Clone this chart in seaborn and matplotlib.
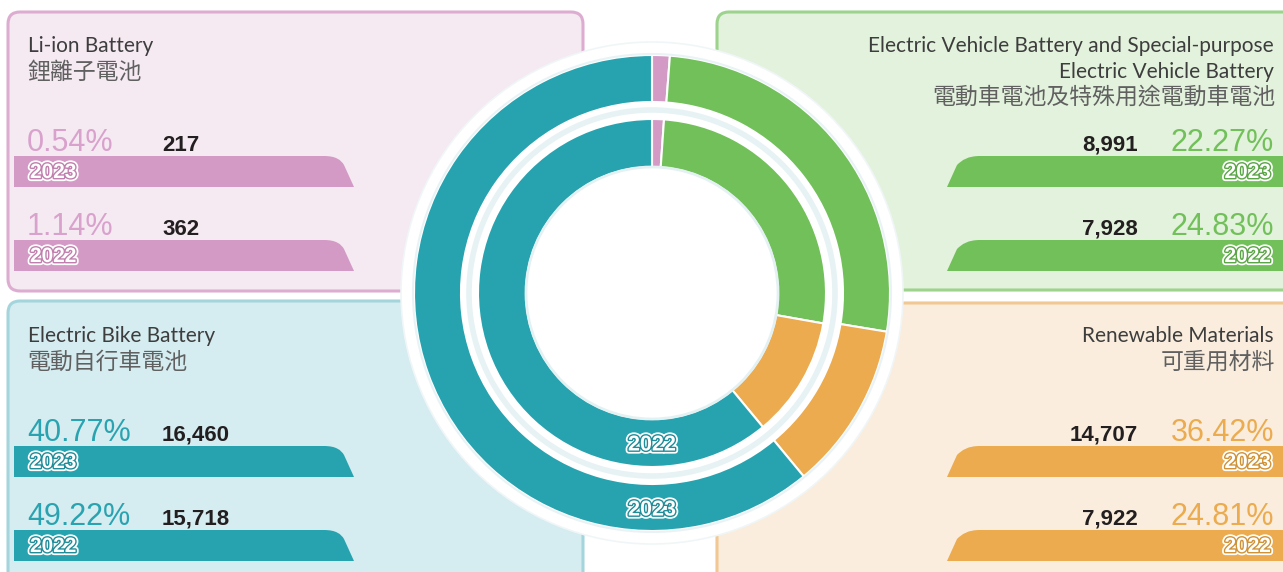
import numpy as np
import matplotlib
matplotlib.use("Agg")
import matplotlib.pyplot as plt
import matplotlib.patheffects as pe
from matplotlib.patches import FancyBboxPatch, PathPatch, Circle
from matplotlib.path import Path
import seaborn as sns

W, H = 1283, 572

# data
cat_en = ["Li-ion Battery",
          "Electric Vehicle Battery and Special-purpose\nElectric Vehicle Battery",
          "Renewable Materials",
          "Electric Bike Battery"]
cat_zh = ["鋰離子電池", "電動車電池及特殊用途電動車電池", "可重用材料", "電動自行車電池"]
pct_2023 = [0.54, 22.27, 36.42, 40.77]
pct_2022 = [1.14, 24.83, 24.81, 49.22]
qty_2023 = [217, 8991, 14707, 16460]
qty_2022 = [362, 7928, 7922, 15718]
# ring slice shares as drawn in the picture (clockwise from 12 o'clock)
ring_2023 = [1.2, 26.4, 11.4, 61.0]
ring_2022 = [1.1, 26.7, 11.2, 61.0]

bar_col = ["#D39AC6", "#72C05A", "#EBAB4E", "#27A3B0"]
txt_col = ["#D8A2CC", "#72C05A", "#EBAB4E", "#2AA3B1"]
bg_col = ["#F5E9F2", "#E3F2DD", "#FAEDDD", "#D5ECF0"]
edge_col = ["#DCADD0", "#9DD38D", "#F1C893", "#A4D5DC"]
dark_col = ["#C07FAE", "#5AA545", "#CF9236", "#1F8C98"]

sns.set_theme(style="white")
plt.rcParams["font.family"] = ["Lato", "Noto Sans CJK TC", "DejaVu Sans"]

fig = plt.figure(figsize=(W / 100, H / 100), dpi=100)
ax = fig.add_axes([0, 0, 1, 1])

EN = ["Lato", "Noto Sans CJK TC", "DejaVu Sans"]
ZH = ["Noto Sans CJK TC", "DejaVu Sans"]
NUM = ["Liberation Sans", "DejaVu Sans"]


def year_fx(c):
    return [pe.Stroke(linewidth=4.5, foreground="white"),
            pe.Stroke(linewidth=2.0, foreground=c), pe.Normal()]


def bar_shape(x0, x1, top, bot, side):
    if side == "left":
        v = [(x0, bot), (x0, top), (x1 - 30, top), (x1 - 18, top), (x1 - 13, top + 4),
             (x1 - 10, top + 9), (x1, bot), (x0, bot)]
    else:
        v = [(x1, bot), (x1, top), (x0 + 33, top), (x0 + 21, top), (x0 + 15, top + 4),
             (x0 + 10, top + 9), (x0, bot), (x1, bot)]
    c = [Path.MOVETO, Path.LINETO, Path.LINETO, Path.CURVE4, Path.CURVE4,
         Path.CURVE4, Path.LINETO, Path.CLOSEPOLY]
    return Path(v, c)


# panels: (x, y, w, h, side)
panels = [(8, 12, 575, 279, "left"), (717, 12, 580, 278, "right"),
          (717, 303, 580, 290, "right"), (8, 301, 575, 292, "left")]
offs = [0, 0, 290, 290]
title_kw = dict(fontsize=15, family=EN, weight="normal", color="#3d3d3d", va="baseline", zorder=3)
zh_kw = dict(fontsize=16.5, family=ZH, color="#606060", va="center", zorder=3)

for i, (x, y, w, h, side) in enumerate(panels):
    ax.add_patch(FancyBboxPatch((x, y), w, h, boxstyle="round,pad=0,rounding_size=12",
                                facecolor=bg_col[i], edgecolor=edge_col[i], lw=2.2, zorder=1))
    o = offs[i]
    if side == "left":
        ax.text(28, 52 + o, cat_en[i], ha="left", **title_kw)
        ax.text(27, 72 + o, cat_zh[i], ha="left", **zh_kw)
    else:
        lines = cat_en[i].split("\n")
        for k, line in enumerate(lines):
            ax.text(1274, 52 + o + 26 * k, line, ha="right", **title_kw)
        zy = 72 + o + 25 * (len(lines) - 1)
        ax.text(1275, zy, cat_zh[i], ha="right", **zh_kw)

    rows = [(pct_2023[i], qty_2023[i], "2023", 0), (pct_2022[i], qty_2022[i], "2022", 84)]
    for pct, qty, yr, dy in rows:
        base = 151 + o + dy
        top, bot = 156 + o + dy, 187 + o + dy
        if side == "left":
            ax.add_patch(PathPatch(bar_shape(14, 354, top, bot, "left"),
                                   facecolor=bar_col[i], edgecolor="none", zorder=2))
            ax.text(27, base, f"{pct:.2f}%", fontsize=22, family=NUM,
                    color=txt_col[i], ha="left", va="baseline", zorder=3)
            ax.text(162, base, f"{qty:,}", fontsize=16, family=NUM, weight="bold",
                    color="#231F20", ha="left", va="baseline", zorder=3)
            ax.text(30, (top + bot) / 2 + 1, yr, fontsize=15, family=NUM, weight="bold",
                    color="white", ha="left", va="center", zorder=3,
                    path_effects=year_fx(dark_col[i]))
        else:
            ax.add_patch(PathPatch(bar_shape(947, 1290, top, bot, "right"),
                                   facecolor=bar_col[i], edgecolor="none", zorder=2))
            ax.text(1274, base, f"{pct:.2f}%", fontsize=22, family=NUM,
                    color=txt_col[i], ha="right", va="baseline", zorder=3)
            ax.text(1138, base, f"{qty:,}", fontsize=16, family=NUM, weight="bold",
                    color="#231F20", ha="right", va="baseline", zorder=3)
            ax.text(1271, (top + bot) / 2 + 1, yr, fontsize=15, family=NUM, weight="bold",
                    color="white", ha="right", va="center", zorder=3,
                    path_effects=year_fx(dark_col[i]))

# centre donuts
cx, cy = 652, 293
ax.add_patch(Circle((cx, cy), 251, facecolor="white", edgecolor="#f0f6f7", lw=1.2, zorder=4))
for shares, r, w in [(ring_2023, 238, 47), (ring_2022, 174, 48)]:
    wedges, _ = ax.pie(shares, radius=r, center=(cx, cy), startangle=-90,
                       counterclock=True, colors=bar_col,
                       wedgeprops=dict(width=w, edgecolor="white", linewidth=1.5))
    for wdg in wedges:
        wdg.set_zorder(5)
# faint brush halo in the gap between the rings
ax.add_patch(Circle((cx, cy), 183, facecolor="none", edgecolor="#e6f2f4", lw=4, zorder=5))
ax.add_patch(Circle((cx, cy), 126, facecolor="none", edgecolor="#e4f1f3", lw=2, zorder=5))
ax.add_patch(Circle((cx, cy), 239, facecolor="none", edgecolor="#e9f3f5", lw=1.5, zorder=5))

ax.text(cx, 445, "2022", fontsize=15.5, family=NUM, weight="bold", color="white",
        ha="center", va="center", zorder=6, path_effects=year_fx("#1F8C98"))
ax.text(cx, 510, "2023", fontsize=15.5, family=NUM, weight="bold", color="white",
        ha="center", va="center", zorder=6, path_effects=year_fx("#1F8C98"))

ax.set_xlim(0, W)
ax.set_ylim(H, 0)
ax.set_aspect("equal")
ax.axis("off")

fig.savefig("out.png", dpi=100, facecolor="white")
